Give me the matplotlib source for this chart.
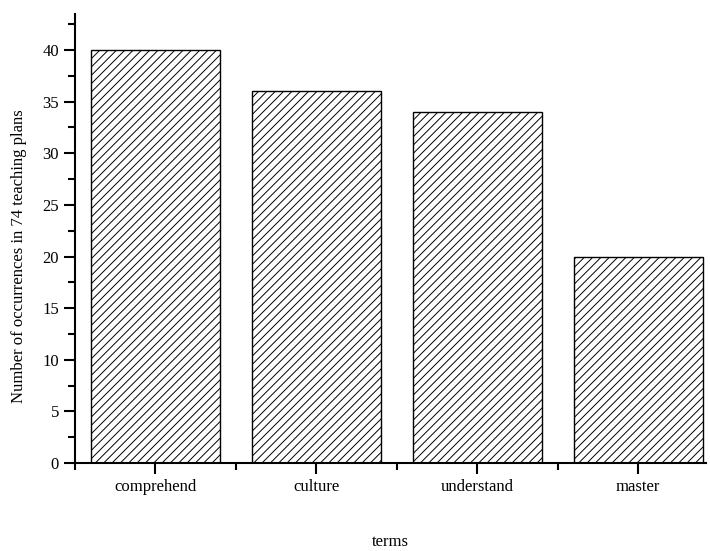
import matplotlib
matplotlib.use('Agg')
import matplotlib.pyplot as plt
from matplotlib.ticker import MultipleLocator, FixedLocator

plt.rcParams['font.family'] = ['Liberation Serif', 'DejaVu Serif']
plt.rcParams['hatch.linewidth'] = 0.7

# data
terms = ['comprehend', 'culture', 'understand', 'master']
counts = [40, 36, 34, 20]

fig = plt.figure(figsize=(7.1, 5.51), dpi=100)
ax = fig.add_axes([0.1056, 0.1597, 0.8884, 0.815])

x = list(range(len(terms)))
ax.bar(x, counts, width=0.8, color='white', edgecolor='black',
       linewidth=1.0, hatch='////')

ax.set_xlim(-0.5, 3.42)
ax.set_ylim(0, 43.5)

ax.set_xticks(x)
ax.set_xticklabels(terms)
ax.xaxis.set_minor_locator(FixedLocator([-0.5, 0.5, 1.5, 2.5]))
ax.yaxis.set_major_locator(MultipleLocator(5))
ax.yaxis.set_minor_locator(MultipleLocator(2.5))

for side in ['top', 'right']:
    ax.spines[side].set_visible(False)
for side in ['left', 'bottom']:
    ax.spines[side].set_linewidth(1.5)

ax.tick_params(which='major', direction='out', length=8, width=1.5, labelsize=12)
ax.tick_params(which='minor', direction='out', length=5, width=1.5)

ax.set_xlabel('terms', fontsize=12, labelpad=28)
ax.set_ylabel('Number of occurrences in 74 teaching plans', fontsize=12)
ax.yaxis.set_label_coords(-0.076, 0.46)

plt.savefig('out.png', dpi=100)
